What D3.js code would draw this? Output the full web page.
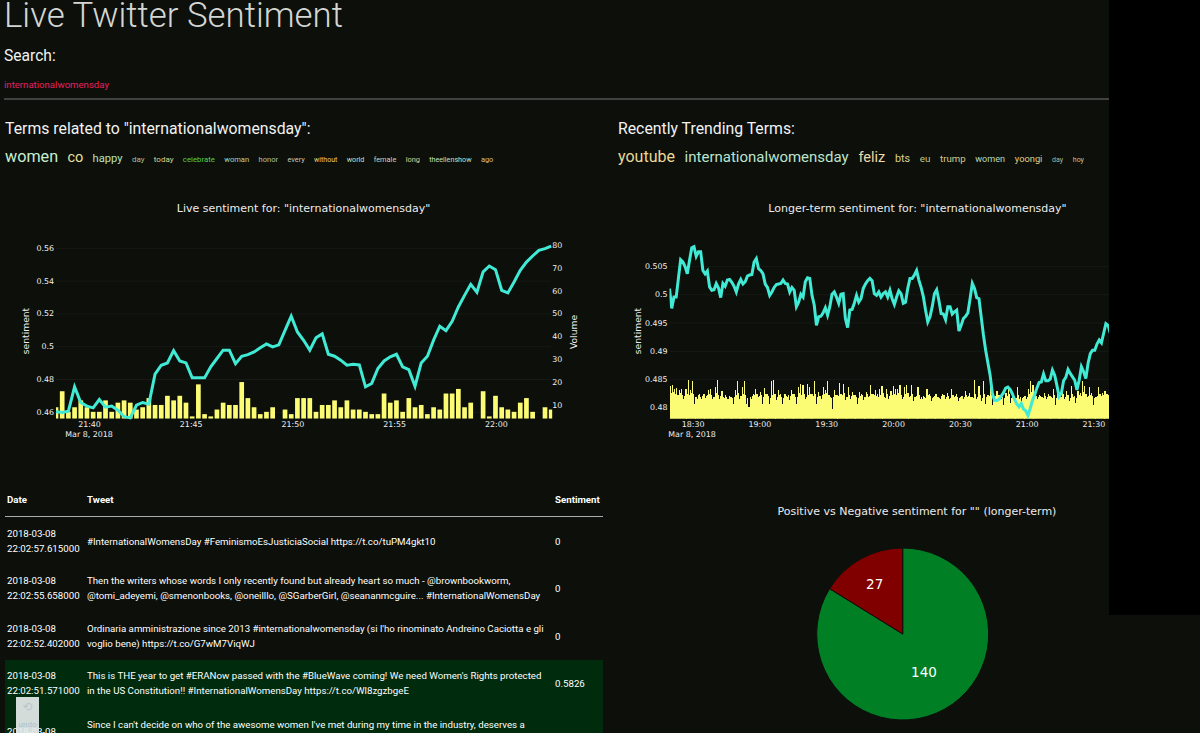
<!DOCTYPE HTML>
<html>
<head>
    <meta charset="utf-8">
    <title>Live Twitter Sentiment</title>
    <style>
        html, body { margin: 0; padding: 0; background: #0C0F0A; overflow: hidden; }
        svg { display: block; font-family: Roboto, sans-serif; }
        .plot text { font-family: "DejaVu Sans", sans-serif; }
        .axis path { display: none; }
        .axis line { stroke: #161915; }
        .axis text { fill: #f0f0f0; font-size: 7.9px; font-family: "DejaVu Sans", sans-serif; }
    </style>
</head>
<body>
<svg id="page" width="1200" height="733"></svg>
<script src="https://cdn.jsdelivr.net/npm/d3@7"></script>
<script>
// live chart, one sample every ~18 seconds
const liveSentiment = [.4600, .4596, .4604, .4752, .4657, .4635, .4624, .4675, .4628, .4635, .4610, .4570, .4563, .4640, .4657, .4647,
    .4830, .4884, .4898, .4973, .4910, .4898, .4807, .4807, .4807, .4874, .4925, .4976, .4976, .4894, .4939, .4949, .4965, .4990, .5014,
    .4996, .5008, .5097, .5183, .5087, .5036, .4976, .5051, .5075, .4951, .4939, .4915, .4884, .4890, .4886, .4752, .4773, .4864, .4910,
    .4935, .4951, .4874, .4857, .4756, .4898, .4939, .5037, .5122, .5095, .5152, .5239, .5310, .5377, .5329, .5453, .5489, .5467, .5341,
    .5325, .5392, .5463, .5513, .5550, .5585, .5595, .5611];
const liveVolume = [9, 16, 7, 9, 12, 9, 7, 7, 12, 7, 11, 12, 11, 8, 9, 13, 10, 10, 14, 12, 14, 11, 5, 19, 6, 5, 8, 11, 10, 10, 20, 13, 9, 6, 7, 9,
    null, 8, 6, 13, 13, 13, 7, 10, 10, 12, 9, 12, 8, 8, 7, 6, 6, 15, 11, 12, 7, 13, 9, 10, 6, 9, 8, 15, 15, 17, 9, 11, null, 16, 5, 14, 9, 8, 7, 11, 13,
    7, null, 9, 8];
const liveSentimentTicks = [0.46, 0.48, 0.5, 0.52, 0.54, 0.56];
const liveVolumeTicks = [10, 20, 30, 40, 50, 60, 70, 80];
const liveTimeTicks = ["21:40", "21:45", "21:50", "21:55", "22:00"];

// longer-term chart, sentiment sampled once a minute, volume about twice a minute
const longSentiment = [.5010, .4975, .4995, .4995, .5028, .5061, .5057, .5049, .5036, .5060, .5082, .5084, .5067, .5075, .5075, .5042, .5036, .5041,
    .5013, .5007, .5008, .5019, .5011, .4994, .5019, .5014, .5025, .5026, .5021, .5014, .5004, .5018, .5026, .5018, .5022, .5032, .5034, .5035,
    .5057, .5063, .5045, .5042, .5036, .5018, .5012, .4998, .5004, .5012, .5017, .5018, .5019, .5025, .5019, .5018, .5004, .5012, .5007, .4978,
    .4986, .5000, .4995, .5022, .5029, .5028, .4998, .4981, .4945, .4960, .4961, .4967, .4976, .4963, .4978, .5000, .5004, .4995, .4984, .5000,
    .5001, .4957, .4941, .4972, .4973, .4984, .4998, .4986, .4992, .5010, .5018, .5024, .5028, .5024, .5001, .4998, .5004, .4995, .5001, .5004,
    .4995, .5007, .4992, .4982, .4995, .5006, .5001, .4984, .4986, .5010, .5028, .5028, .5034, .5042, .5025, .5012, .4996, .4972, .4951, .4960,
    .4978, .5001, .5008, .4989, .4966, .4965, .4955, .4978, .4978, .4965, .4969, .4972, .4935, .4945, .4957, .4961, .4967, .4992, .5019, .5010,
    .4994, .4992, .4960, .4928, .4901, .4879, .4857, .4825, .4812, .4812, .4814, .4820, .4826, .4834, .4836, .4832, .4824, .4814, .4806, .4801,
    .4807, .4797, .4794, .4786, .4798, .4812, .4822, .4834, .4844, .4845, .4859, .4847, .4847, .4850, .4866, .4857, .4839, .4819, .4825, .4847,
    .4853, .4867, .4860, .4854, .4848, .4831, .4848, .4872, .4863, .4851, .4878, .4895, .4901, .4901, .4912, .4919, .4914, .4931, .4948, .4945, .4931];
const longVolume = [33, 26, 34, 27, 30, 25, 31, 24, 29, 26, 30, 24, 20, 23, 30, 25, 39, 24, 29, 26, 38, 25, 15, 22, 20, 24, 25, 22, 20, 23, 25, 21,
    23, 24, 29, 25, 30, 24, 20, 22, 32, 26, 39, 24, 20, 23, 28, 22, 21, 24, 22, 20, 20, 23, 22, 21, 15, 22, 29, 24, 38, 26, 20, 23,
    32, 25, 38, 24, 15, 21, 12, 22, 20, 23, 25, 24, 30, 25, 22, 23, 27, 24, 15, 22, 31, 25, 25, 23, 15, 21, 38, 24, 39, 25, 19, 22,
    29, 24, 25, 22, 15, 21, 25, 23, 22, 24, 19, 23, 29, 25, 25, 22, 15, 22, 32, 26, 35, 24, 34, 25, 20, 22, 35, 24, 32, 25, 25, 23,
    38, 25, 15, 22, 27, 23, 20, 24, 32, 25, 29, 26, 38, 24, 22, 21, 10, 22, 29, 24, 24, 23, 36, 25, 25, 24, 35, 26, 19, 22, 32, 24,
    20, 23, 27, 24, 24, 22, 15, 21, 27, 23, 25, 24, 19, 22, 27, 25, 22, 23, 34, 25, 25, 24, 29, 23,
    25, 22, 30, 24, 33, 26, 22, 21, 30, 25, 20, 23, 28, 24, 33, 25, 30, 24, 30, 26, 34, 24, 20, 22, 32, 25, 34, 26, 22, 23, 34, 25,
    18, 22, 22, 23, 32, 24, 20, 22, 20, 23, 22, 21, 30, 24, 25, 23, 18, 21, 22, 23, 25, 22, 22, 21, 20, 23, 25, 24, 20, 22, 26, 23,
    20, 21, 30, 24, 22, 23, 25, 22, 18, 21, 22, 23, 20, 22, 28, 24, 22, 23, 26, 22, 22, 21, 39, 25, 20, 22, 33, 24, 18, 21, 38, 25,
    15, 22, 24, 23, 38, 24, 14, 21, 22, 23, 28, 24, 24, 23, 20, 22, 14, 21, 26, 23, 33, 25, 16, 21, 22, 23, 18, 21, 32, 24, 20, 22,
    12, 21, 22, 23, 20, 22, 30, 25, 38, 27, 34, 26, 25, 23, 20, 22, 24, 23, 22, 21, 26, 23, 20, 22, 25, 23, 22, 21, 30, 24, 14, 21,
    28, 23, 25, 22, 33, 25, 20, 22, 28, 24, 18, 21, 33, 25, 22, 23, 16, 21, 28, 24, 26, 23, 38, 27, 33, 25, 22, 23, 32, 24, 26, 23,
    14, 21, 22, 23, 32, 25, 25, 23, 26, 24, 28, 25, 25, 24];
const longSentimentTicks = [0.48, 0.485, 0.49, 0.495, 0.5, 0.505];
const longTimeTicks = ["18:30", "19:00", "19:30", "20:00", "20:30", "21:00", "21:30"];

// pie
const pieLabels = ["Positive", "Negative"];
const pieValues = [140, 27];

// term lists
const relatedTerms = ["women", "co", "happy", "day", "today", "celebrate", "woman", "honor", "every", "without", "world", "female", "long", "theellenshow", "ago"];
const relatedSizes = [16.2, 14.5, 11.2, 8, 8, 7.8, 7.6, 7.6, 7.4, 7, 7.2, 7.4, 7.4, 7.2, 7.4];
const relatedColors = ["#c6efd0", "#e9e2a0", "#b6e2bd", "#a9bf9f", "#ded58c", "#57d146", "#b4d3b4", "#a8c2aa", "#c2cbc0", "#e6cf72", "#c2e0c4", "#d8d0b2", "#e1d08f", "#bde2c6", "#d9c284"];
const trendingTerms = ["youtube", "internationalwomensday", "feliz", "bts", "eu", "trump", "women", "yoongi", "day", "hoy"];
const trendingSizes = [16, 15, 14.5, 10.8, 9.8, 9.6, 9.1, 9.3, 7, 7];
const trendingColors = ["#e8d898", "#bce3cd", "#f0d9a9", "#d9d193", "#c9c983", "#d9c98a", "#bbdabb", "#e0d082", "#a9b99a", "#c9c192"];

// table
const tweetDates = [
    ["2018-03-08", "22:02:57.615000"],
    ["2018-03-08", "22:02:55.658000"],
    ["2018-03-08", "22:02:52.402000"],
    ["2018-03-08", "22:02:51.571000"],
    ["2018-03-08"]
];
const tweetLines = [
    ["#InternationalWomensDay #FeminismoEsJusticiaSocial https://t.co/tuPM4gkt10"],
    ["Then the writers whose words I only recently found but already heart so much - @brownbookworm,", "@tomi_adeyemi, @smenonbooks, @oneilllo, @SGarberGirl, @seananmcguire... #InternationalWomensDay"],
    ["Ordinaria amministrazione since 2013 #internationalwomensday (si l'ho rinominato Andreino Caciotta e gli", "voglio bene) https://t.co/G7wM7ViqWJ"],
    ["This is THE year to get #ERANow passed with the #BlueWave coming! We need Women's Rights protected", "in the US Constitution!! #InternationalWomensDay https://t.co/Wl8zgzbgeE"],
    ["Since I can't decide on who of the awesome women I've met during my time in the industry, deserves a"]
];
const tweetSentiment = ["0", "0", "0", "0.5826", ""];

const bgColor = "#0C0F0A";
const lineColor = "#41EAD4";
const barColor = "#FBFC74";
const pieColors = ["#007F25", "#800000"];
const plotText = "#ececec";

const svg = d3.select("#page");
const parseClock = d3.timeParse("%Y-%m-%d %H:%M");
const clock = s => parseClock("2018-03-08 " + s);
const fmtClock = d3.timeFormat("%H:%M");
const fmtNum = d => String(+d.toFixed(3));

function label(x, y, text, size, color, opts) {
    opts = opts || {};
    return svg.append("text")
        .attr("x", x).attr("y", y)
        .attr("font-size", size + "px")
        .attr("font-weight", opts.weight || 400)
        .attr("font-family", opts.family || null)
        .attr("text-anchor", opts.anchor || "start")
        .attr("fill", color)
        .text(text);
}

// black strip on the right of the screenshot
svg.append("rect").attr("x", 1109).attr("y", 0).attr("width", 91).attr("height", 615).attr("fill", "#000");

// header
label(4, 27, "Live Twitter Sentiment", 34.8, "#d4d6d3", { weight: 300 });
label(4, 61, "Search:", 15.6, "#f2f2f2");
label(4, 88, "internationalwomensday", 9.6, "#e8205f");
svg.append("line").attr("x1", 4).attr("x2", 1109).attr("y1", 99).attr("y2", 99).attr("stroke", "#777");

label(5, 134, 'Terms related to "internationalwomensday":', 15.8, "#f2f2f2");
label(618, 134, "Recently Trending Terms:", 15.8, "#f2f2f2");

function termRow(x0, baseline, terms, sizes, colors, gap) {
    let x = x0;
    terms.forEach((t, i) => {
        const node = label(x, baseline, t, sizes[i], colors[i]);
        x += node.node().getComputedTextLength() + gap;
    });
}
termRow(5, 162, relatedTerms, relatedSizes, relatedColors, 9.3);
termRow(618, 162, trendingTerms, trendingSizes, trendingColors, 9.7);

// shared bits of the two time charts
function plotFrame(id, left, right, top, bottom) {
    svg.append("clipPath").attr("id", id)
        .append("rect").attr("x", left).attr("y", top - 4).attr("width", right - left).attr("height", bottom - top + 4);
}

function timeAxis(x, ticks, bottom, center) {
    const g = svg.append("g").attr("class", "axis")
        .attr("transform", `translate(0,${bottom})`)
        .call(d3.axisBottom(x).tickValues(ticks.map(clock)).tickFormat(fmtClock).tickSize(0).tickPadding(2));
    g.selectAll("text").attr("dy", "0.75em");
    label(center, bottom + 18.5, "Mar 8, 2018", 7.9, "#f0f0f0", { anchor: "middle", family: "DejaVu Sans" });
}

function leftAxis(y, ticks, left, right) {
    svg.append("g").attr("class", "axis")
        .attr("transform", `translate(${left},0)`)
        .call(d3.axisLeft(y).tickValues(ticks).tickFormat(fmtNum).tickSize(-(right - left)).tickPadding(2));
}

function rotated(x, y, text) {
    label(0, 0, text, 9.2, plotText, { anchor: "middle", family: "DejaVu Sans" })
        .attr("transform", `translate(${x},${y}) rotate(-90)`);
}

// live chart
{
    const left = 56, right = 551.2, top = 244.7, bottom = 418.7;
    const liveStart = new Date(2018, 2, 8, 21, 38, 22, 600);
    const liveStepMs = 18260;
    const t = i => new Date(+liveStart + i * liveStepMs);

    const x = d3.scaleTime().domain([t(0), t(liveSentiment.length - 1)]).range([left, right]);
    const y = d3.scaleLinear().domain([0.4558, 0.5619]).range([bottom, top]);
    const yVol = d3.scaleLinear().domain([4, 80]).range([bottom, top]);

    leftAxis(y, liveSentimentTicks, left, right);

    svg.append("g").attr("class", "axis")
        .attr("transform", `translate(${right},0)`)
        .call(d3.axisRight(yVol).tickValues(liveVolumeTicks).tickSize(0).tickPadding(1));

    plotFrame("clipLive", left, right + 1, top, bottom);
    const barW = 4.7;
    svg.append("g").attr("clip-path", "url(#clipLive)")
        .selectAll("rect")
        .data(liveVolume.map((v, i) => ({ v, i })).filter(d => d.v !== null))
        .enter().append("rect")
        .attr("x", d => x(t(d.i)) - barW / 2)
        .attr("y", d => yVol(d.v))
        .attr("width", barW)
        .attr("height", d => bottom - yVol(d.v))
        .attr("fill", barColor);

    svg.append("path")
        .datum(liveSentiment)
        .attr("fill", "none")
        .attr("stroke", lineColor)
        .attr("stroke-width", 3)
        .attr("d", d3.line().x((d, i) => x(t(i))).y(d => y(d)));

    timeAxis(x, liveTimeTicks, bottom, 89);
    rotated(29, 331, "sentiment");
    rotated(577, 332, "Volume");
    label(303.5, 212, 'Live sentiment for: "internationalwomensday"', 11, plotText, { anchor: "middle", family: "DejaVu Sans" });
}

// longer-term chart
{
    const left = 669.5, right = 1109, top = 245, bottom = 418.7;
    const longStart = new Date(2018, 2, 8, 18, 19, 36);
    const spanMin = 197.4;
    const t = i => d3.timeMinute.offset(longStart, i);
    const tVol = i => new Date(+longStart + i * spanMin * 60000 / longVolume.length);

    const x = d3.scaleTime().domain([longStart, new Date(+longStart + spanMin * 60000)]).range([left, right]);
    const y = d3.scaleLinear().domain([0.478, 0.5087]).range([bottom, top]);
    const yVol = d3.scaleLinear().domain([0, 174]).range([bottom, top]);

    leftAxis(y, longSentimentTicks, left, right);

    plotFrame("clipLong", left, right, top, bottom);
    const pitch = x(tVol(1)) - x(tVol(0));
    svg.append("g").attr("clip-path", "url(#clipLong)")
        .attr("shape-rendering", "crispEdges")
        .selectAll("rect")
        .data(longVolume)
        .enter().append("rect")
        .attr("x", (d, i) => x(tVol(i)))
        .attr("y", d => yVol(d))
        .attr("width", pitch + 0.1)
        .attr("height", d => bottom - yVol(d))
        .attr("fill", barColor);

    svg.append("path")
        .datum(longSentiment)
        .attr("clip-path", "url(#clipLong)")
        .attr("fill", "none")
        .attr("stroke", lineColor)
        .attr("stroke-width", 3)
        .attr("d", d3.line().x((d, i) => x(t(i))).y(d => y(d)));

    timeAxis(x, longTimeTicks, bottom, 692);
    rotated(641, 331, "sentiment");
    label(917.5, 212, 'Longer-term sentiment for: "internationalwomensday"', 11, plotText, { anchor: "middle", family: "DejaVu Sans" });
}

// table
{
    const rowMid = [541, 588, 636, 683, 731];
    const rowFill = [null, null, null, "#002C0D", "#002C0D"];
    const rowTop = [null, null, null, 660, 707];
    const rowBottom = [null, null, null, 707, 733];
    rowFill.forEach((c, i) => {
        if (c) svg.append("rect").attr("x", 5).attr("y", rowTop[i]).attr("width", 598).attr("height", rowBottom[i] - rowTop[i]).attr("fill", c);
    });

    label(7, 502.5, "Date", 9.7, "#fff", { weight: 700 });
    label(87, 502.5, "Tweet", 9.7, "#fff", { weight: 700 });
    label(555, 502.5, "Sentiment", 9.7, "#fff", { weight: 700 });
    svg.append("line").attr("x1", 5).attr("x2", 603).attr("y1", 516.5).attr("y2", 516.5).attr("stroke", "#aaa");

    const fs = 9.7, lh = 14.4;
    const block = (x, mid, lines) => lines.forEach((s, k) => {
        label(x, mid + 3.5 + (k - (lines.length - 1) / 2) * lh, s, fs, "#fff");
    });
    tweetDates.forEach((d, i) => block(7, rowMid[i], d));
    tweetLines.forEach((d, i) => block(87, i === 4 ? 724 : rowMid[i], d));
    tweetSentiment.forEach((d, i) => label(555, rowMid[i] + 3.5, d, fs, "#fff"));

    // plotly "undo" tab
    svg.append("rect").attr("x", 16).attr("y", 697).attr("width", 23).attr("height", 36).attr("fill", "#e6ecec").attr("opacity", 0.92);
    label(27.5, 711, "\u27F2", 12, "#b9c6cc", { anchor: "middle", family: "DejaVu Sans" });
    label(27.5, 727, "undo", 8, "#a9c0d0", { anchor: "middle" });
}

// pie
{
    const cx = 902.7, cy = 634, r = 86;
    const labelRadius = [43.8, 57.6];
    const slices = d3.pie().sort(null)(pieValues);
    const arc = d3.arc().innerRadius(0).outerRadius(r);
    const g = svg.append("g").attr("class", "plot").attr("transform", `translate(${cx},${cy})`);

    g.selectAll("path").data(slices).enter().append("path")
        .attr("d", arc)
        .attr("fill", (d, i) => pieColors[i])
        .attr("stroke", bgColor)
        .attr("stroke-width", 1);

    g.selectAll("text").data(slices).enter().append("text")
        .attr("transform", (d, i) => {
            const a = (d.startAngle + d.endAngle) / 2;
            return `translate(${Math.sin(a) * labelRadius[i]},${-Math.cos(a) * labelRadius[i]})`;
        })
        .attr("dy", "0.36em")
        .attr("text-anchor", "middle")
        .attr("font-size", "13.5px")
        .attr("fill", "#fff")
        .text(d => d.value);

    label(917, 515, 'Positive vs Negative sentiment for "" (longer-term)', 11, plotText, { anchor: "middle", family: "DejaVu Sans" });
}
</script>
</body>
</html>
